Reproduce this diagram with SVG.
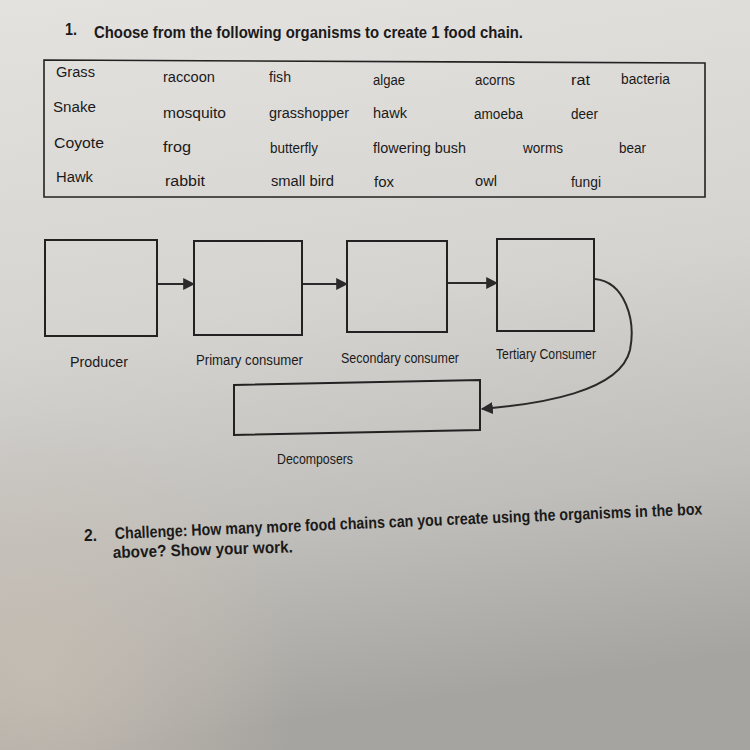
<svg xmlns="http://www.w3.org/2000/svg" width="750" height="750" viewBox="0 0 750 750">
<defs>
<linearGradient id="bg" x1="0" y1="0" x2="0.15" y2="1">
<stop offset="0" stop-color="#e4e2df"/>
<stop offset="0.45" stop-color="#d6d4d1"/>
<stop offset="0.75" stop-color="#c0beba"/>
<stop offset="1" stop-color="#a6a4a0"/>
</linearGradient>
<radialGradient id="warm" cx="0.05" cy="0.9" r="0.35">
<stop offset="0" stop-color="#c8bfb4" stop-opacity="0.8"/>
<stop offset="1" stop-color="#c8bfb4" stop-opacity="0"/>
</radialGradient>
<marker id="ah" viewBox="0 0 10 10" refX="9" refY="5" markerWidth="6" markerHeight="6" orient="auto" markerUnits="strokeWidth">
<path d="M0,0 L10,5 L0,10 z" fill="#2a2a2a"/>
</marker>
<style>
.t{font-family:"Liberation Sans",Arial,sans-serif;fill:#1a1a1a;font-size:15.5px}
.b{font-weight:bold;font-size:16.5px}
.box{fill:none;stroke:#222;stroke-width:2}
.con{fill:none;stroke:#2a2a2a;stroke-width:2;marker-end:url(#ah)}
</style>
</defs>
<rect width="750" height="750" fill="url(#bg)"/>
<rect width="750" height="750" fill="url(#warm)"/>

<g id="title">
<text class="t b" x="65" y="35" textLength="12" lengthAdjust="spacingAndGlyphs">1.</text>
<text class="t b" x="94" y="38" textLength="429" lengthAdjust="spacingAndGlyphs">Choose from the following organisms to create 1 food chain.</text>
</g>

<g id="organism-table">
<path d="M44,60 L705,63 L705,197 L44,197 Z" fill="none" stroke="#222" stroke-width="1.6"/>
<text class="t" x="56" y="77" textLength="39" lengthAdjust="spacingAndGlyphs">Grass</text>
<text class="t" x="163" y="82" textLength="52" lengthAdjust="spacingAndGlyphs">raccoon</text>
<text class="t" x="269" y="82" textLength="22" lengthAdjust="spacingAndGlyphs">fish</text>
<text class="t" x="373" y="85" textLength="32" lengthAdjust="spacingAndGlyphs">algae</text>
<text class="t" x="475" y="85" textLength="40" lengthAdjust="spacingAndGlyphs">acorns</text>
<text class="t" x="571" y="85" textLength="19" lengthAdjust="spacingAndGlyphs">rat</text>
<text class="t" x="621" y="84" textLength="49" lengthAdjust="spacingAndGlyphs">bacteria</text>

<text class="t" x="53" y="112" textLength="43" lengthAdjust="spacingAndGlyphs">Snake</text>
<text class="t" x="163" y="118" textLength="63" lengthAdjust="spacingAndGlyphs">mosquito</text>
<text class="t" x="269" y="118" textLength="80" lengthAdjust="spacingAndGlyphs">grasshopper</text>
<text class="t" x="373" y="118" textLength="34" lengthAdjust="spacingAndGlyphs">hawk</text>
<text class="t" x="474" y="119" textLength="49" lengthAdjust="spacingAndGlyphs">amoeba</text>
<text class="t" x="571" y="119" textLength="27" lengthAdjust="spacingAndGlyphs">deer</text>

<text class="t" x="54" y="148" textLength="50" lengthAdjust="spacingAndGlyphs">Coyote</text>
<text class="t" x="163" y="152" textLength="28" lengthAdjust="spacingAndGlyphs">frog</text>
<text class="t" x="270" y="153" textLength="48" lengthAdjust="spacingAndGlyphs">butterfly</text>
<text class="t" x="373" y="153" textLength="93" lengthAdjust="spacingAndGlyphs">flowering bush</text>
<text class="t" x="523" y="153" textLength="40" lengthAdjust="spacingAndGlyphs">worms</text>
<text class="t" x="619" y="153" textLength="27" lengthAdjust="spacingAndGlyphs">bear</text>

<text class="t" x="56" y="182" textLength="37" lengthAdjust="spacingAndGlyphs">Hawk</text>
<text class="t" x="165" y="186" textLength="40" lengthAdjust="spacingAndGlyphs">rabbit</text>
<text class="t" x="271" y="186" textLength="63" lengthAdjust="spacingAndGlyphs">small bird</text>
<text class="t" x="374" y="187" textLength="20" lengthAdjust="spacingAndGlyphs">fox</text>
<text class="t" x="475" y="186" textLength="22" lengthAdjust="spacingAndGlyphs">owl</text>
<text class="t" x="571" y="187" textLength="30" lengthAdjust="spacingAndGlyphs">fungi</text>
</g>

<g id="producer">
<rect class="box" x="45" y="240" width="112" height="96"/>
<text class="t" x="70" y="367" textLength="58" lengthAdjust="spacingAndGlyphs">Producer</text>
</g>
<g id="primary-consumer">
<rect class="box" x="194" y="241" width="108" height="94"/>
<text class="t" x="196" y="365" textLength="107" lengthAdjust="spacingAndGlyphs">Primary consumer</text>
</g>
<g id="secondary-consumer">
<rect class="box" x="347" y="241" width="100" height="91"/>
<text class="t" x="341" y="363" textLength="118" lengthAdjust="spacingAndGlyphs">Secondary consumer</text>
</g>
<g id="tertiary-consumer">
<rect class="box" x="497" y="239" width="97" height="92"/>
<text class="t" x="496" y="359" textLength="100" lengthAdjust="spacingAndGlyphs">Tertiary Consumer</text>
</g>
<g id="decomposers">
<path class="box" d="M234,385 L480,380 L480,430 L234,435 Z"/>
<text class="t" x="277" y="464" textLength="76" lengthAdjust="spacingAndGlyphs">Decomposers</text>
</g>

<g id="connectors">
<line class="con" x1="158" y1="284" x2="194" y2="284"/>
<line class="con" x1="303" y1="284" x2="347" y2="284"/>
<line class="con" x1="448" y1="283" x2="497" y2="283"/>
<path class="con" d="M595,279 C625,282 636,320 630,350 C620,392 540,404 482,409"/>
</g>

<g id="challenge">
<text class="t b" x="84" y="541" textLength="13" lengthAdjust="spacingAndGlyphs">2.</text>
<text class="t b" x="115" y="539" textLength="588" lengthAdjust="spacingAndGlyphs" transform="rotate(-2.4 115 539)">Challenge: How many more food chains can you create using the organisms in the box</text>
<text class="t b" x="113" y="558" textLength="180" lengthAdjust="spacingAndGlyphs" transform="rotate(-1.8 113 558)">above? Show your work.</text>
</g>
</svg>
